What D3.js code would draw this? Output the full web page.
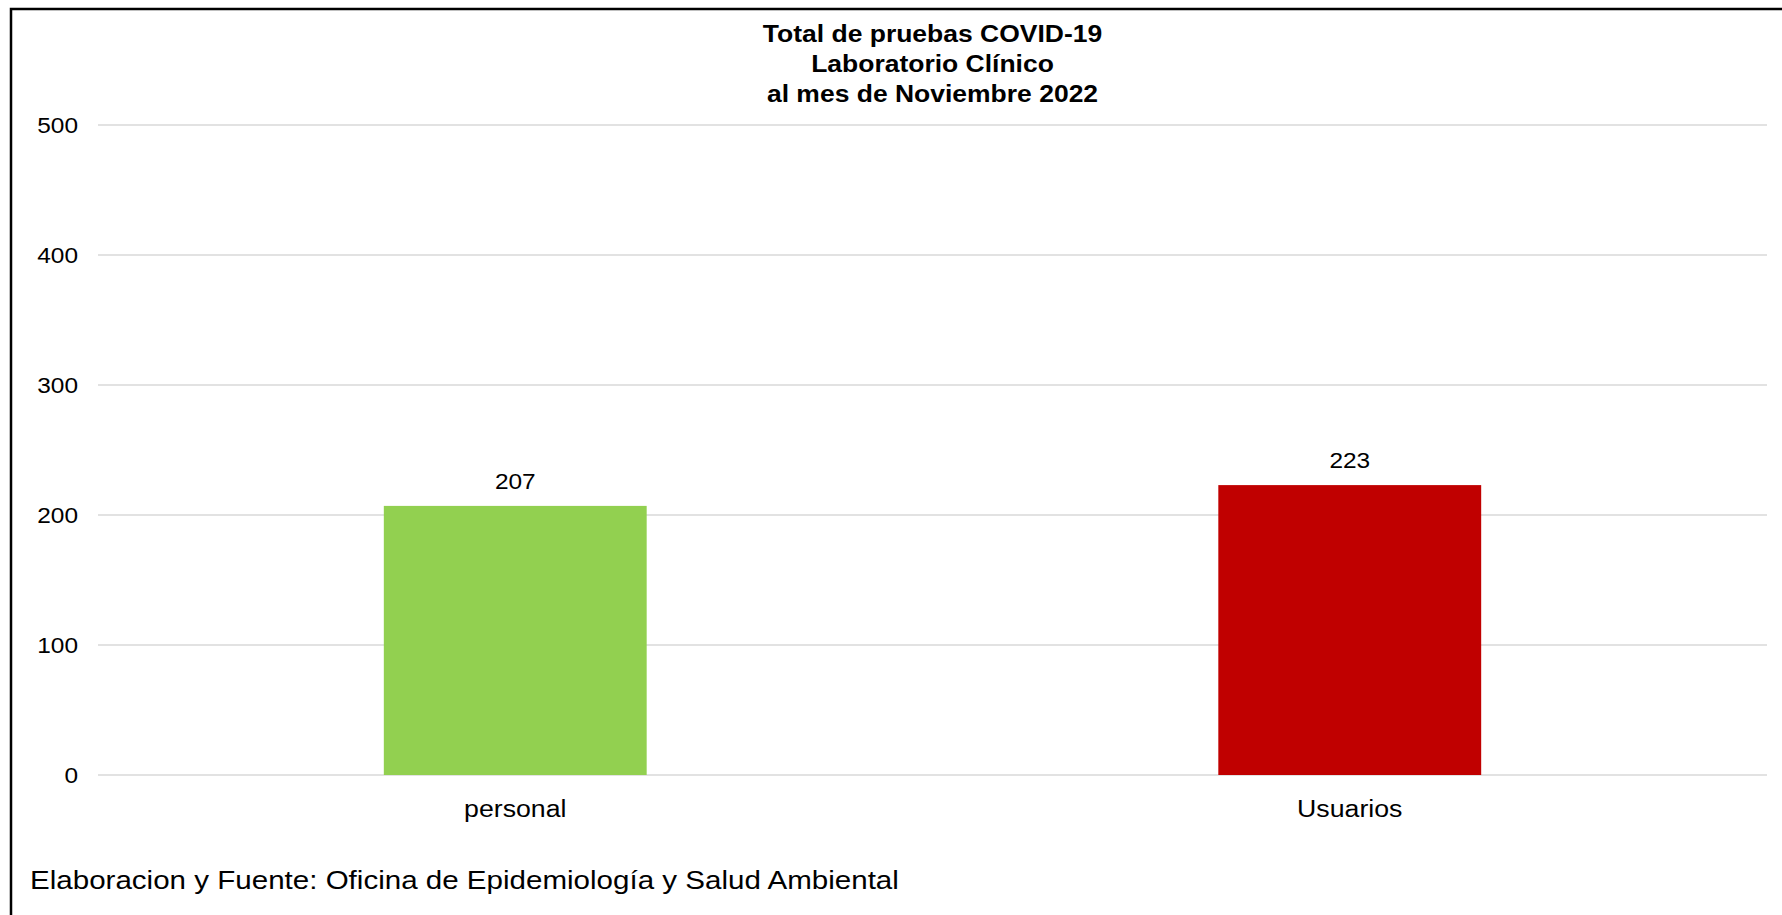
<!DOCTYPE html>
<html>
<head>
<meta charset="utf-8">
<script src="https://cdn.jsdelivr.net/npm/d3@7"></script>
<style>
  body { margin: 0; background: #fff; }
  svg { display: block; font-family: Arial, "Liberation Sans", sans-serif; }
</style>
</head>
<body>
<svg width="1782" height="915"></svg>
<script>
var categories = ["personal", "Usuarios"];
var values = [207, 223];
var colors = ["#92d050", "#c00000"];
var yTicks = [0, 100, 200, 300, 400, 500];
var titleLines = ["Total de pruebas COVID-19", "Laboratorio Clínico", "al mes de Noviembre 2022"];
var footer = "Elaboracion y Fuente: Oficina de Epidemiología y Salud Ambiental";

var svg = d3.select("svg"),
    width = +svg.attr("width"),
    height = +svg.attr("height");

// text in the picture is stretched a bit horizontally
var sx = 1.1365;
function stretched(x, y) {
    return "translate(" + x + "," + y + ") scale(" + sx + ",1)";
}

svg.append("rect")
   .attr("width", width).attr("height", height)
   .attr("fill", "#fff");

// chart border (only top and left are in view)
svg.append("rect")
   .attr("x", 11).attr("y", 9)
   .attr("width", width + 20).attr("height", height + 20)
   .attr("fill", "none")
   .attr("stroke", "#000")
   .attr("stroke-width", 2.5);

var plotLeft = 98, plotRight = 1767, plotTop = 125, plotBottom = 775;

var y = d3.scaleLinear().domain([0, 500]).range([plotBottom, plotTop]);
var x = d3.scaleBand().domain(categories).range([plotLeft, plotRight])
          .paddingInner(0.685).paddingOuter(0.3425);

// gridlines
svg.append("g")
   .selectAll("line")
   .data(yTicks)
   .enter().append("line")
   .attr("x1", plotLeft).attr("x2", plotRight)
   .attr("y1", function(d) { return y(d); })
   .attr("y2", function(d) { return y(d); })
   .attr("stroke", "#d9d9d9")
   .attr("stroke-width", 1.5);

// y axis labels
var yAxis = svg.append("g")
   .attr("transform", "translate(" + plotLeft + ",0)")
   .call(d3.axisLeft(y).tickValues(yTicks).tickSize(0).tickPadding(0));
yAxis.select(".domain").remove();
yAxis.selectAll(".tick").attr("transform", null);
yAxis.selectAll("text")
     .attr("x", null).attr("dy", null)
     .attr("transform", function(d) { return stretched(-20, y(d) + 7.8); })
     .attr("font-size", 21.5)
     .attr("font-family", "Arial, 'Liberation Sans', sans-serif")
     .attr("fill", "#000");

// bars
var data = categories.map(function(c, i) { return { cat: c, value: values[i], color: colors[i] }; });

svg.append("g")
   .selectAll("rect")
   .data(data)
   .enter().append("rect")
   .attr("x", function(d) { return x(d.cat); })
   .attr("width", x.bandwidth())
   .attr("y", function(d) { return y(d.value); })
   .attr("height", function(d) { return plotBottom - y(d.value); })
   .attr("fill", function(d) { return d.color; });

// value labels
svg.append("g")
   .selectAll("text")
   .data(data)
   .enter().append("text")
   .attr("transform", function(d) { return stretched(x(d.cat) + x.bandwidth() / 2, y(d.value) - 17); })
   .attr("text-anchor", "middle")
   .attr("font-size", 21.5)
   .attr("fill", "#000")
   .text(function(d) { return d.value; });

// category labels
var xAxis = svg.append("g")
   .attr("transform", "translate(0," + plotBottom + ")")
   .call(d3.axisBottom(x).tickSize(0).tickPadding(0));
xAxis.select(".domain").remove();
xAxis.selectAll("text")
     .attr("y", null).attr("dy", null)
     .attr("transform", stretched(0, 41.7))
     .attr("font-size", 23.5)
     .attr("font-family", "Arial, 'Liberation Sans', sans-serif")
     .attr("fill", "#000");

// title
svg.append("g")
   .selectAll("text")
   .data(titleLines)
   .enter().append("text")
   .attr("transform", function(d, i) { return stretched((plotLeft + plotRight) / 2, [41.7, 72.2, 101.7][i]); })
   .attr("text-anchor", "middle")
   .attr("font-size", 23.3)
   .attr("font-weight", "bold")
   .attr("fill", "#000")
   .text(function(d) { return d; });

// footer
svg.append("text")
   .attr("transform", stretched(30, 889))
   .attr("font-size", 26)
   .attr("fill", "#000")
   .text(footer);
</script>
</body>
</html>
